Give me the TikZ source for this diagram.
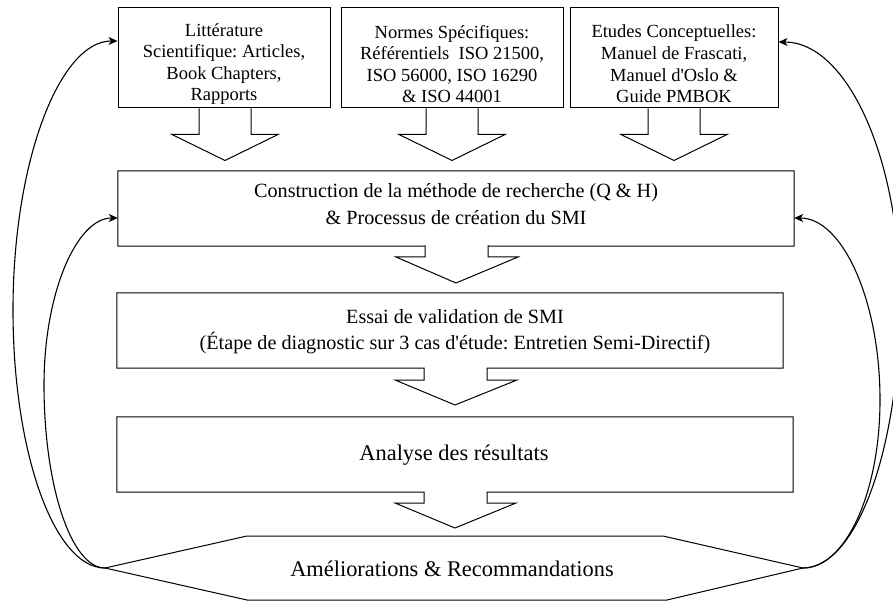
\documentclass[tikz,border=0pt]{standalone}
\usepackage{fontspec}
\setmainfont{Liberation Serif}
\usetikzlibrary{arrows.meta,calc}

\tikzset{
  outline/.style={draw=black,line width=1pt,line join=miter},
  srcbox/.style={outline,rectangle,minimum height=100pt,inner sep=0pt},
  srctext/.style={inner sep=0pt,align=center,font=\frenchspacing\fontsize{18.5}{21.6}\selectfont},
  stagebox/.style={rectangle,minimum height=75pt,inner sep=0pt},
  stagetext/.style={inner sep=0pt,align=center,font=\frenchspacing\fontsize{20.2}{26.5}\selectfont},
  bigtext/.style={inner sep=0pt,font=\fontsize{22.4}{27}\selectfont},
  feedback/.style={draw=black,line width=1.1pt,
    -{Stealth[length=9pt,width=8pt,inset=2.5pt]}},
}

\begin{document}
\begin{tikzpicture}[x=1pt,y=-1pt]
\useasboundingbox (0,0) rectangle (893,601);

% source boxes
\node[srcbox,minimum width=212pt] (lit) at (224,58) {};
\node[srcbox,minimum width=222pt] (norm) at (452,58) {};
\node[srcbox,minimum width=208pt] (conc) at (674,58) {};
\node[srctext] (litT) at ($(lit)+(0,6)$)
  {Littérature\\Scientifique: Articles,\\Book Chapters,\\Rapports};
\node[srctext] (normT) at ($(norm)+(0,6)$)
  {Normes Spécifiques:\\Référentiels\ \ ISO 21500,\\ISO 56000, ISO 16290\\\& ISO 44001};
\node[srctext] (concT) at ($(conc)+(0,6)$)
  {Etudes Conceptuelles:\\Manuel de Frascati,\\Manuel d\textquotesingle Oslo \&\\Guide PMBOK};

% open block arrows under the source boxes
\foreach \b/\dx in {lit/1, norm/0, conc/0}{
  \draw[outline] ($(\b.south)+(\dx-26,0)$) -- ++(0,26) -- ++(-27,0)
    -- ($(\b.south)+(\dx,52)$) -- ($(\b.south)+(\dx+53,26)$) -- ++(-27,0)
    -- ++(0,-26);
}

% stage boxes
\node[stagebox,minimum width=676pt] (con) at (456,208.5) {};
\node[stagebox,minimum width=666pt] (ess) at (450,330.5) {};
\node[stagebox,minimum width=676pt] (ana) at (455,454.5) {};
\node[stagetext] (conT) at (456,204)
  {Construction de la méthode de recherche (Q \& H)\\\& Processus de création du SMI};
\node[stagetext] (essT) at (455,331.5)
  {Essai de validation de SMI\\(Étape de diagnostic sur 3 cas d\textquotesingle étude: Entretien Semi-Directif)};
\node[bigtext] (anaT) at (454,455) {Analyse des résultats};

% arrow roots under the stage boxes
\coordinate (a1) at (456,246);
\coordinate (a2) at (455,368);
\coordinate (a3) at (455,492);

% outlines of the stage boxes with their attached arrows
\draw[outline] (con.south west) -- (con.north west) -- (con.north east) -- (con.south east)
  -- ($(a1)+(32,0)$) -- ++(0,11) -- ++(30,0) -- ++(-62,26) -- ++(-60,-26) -- ++(29,0) -- ++(0,-11) -- cycle;
\draw[outline] (ess.south west) -- (ess.north west) -- (ess.north east) -- (ess.south east)
  -- ($(a2)+(32,0)$) -- ++(0,12) -- ++(30,0) -- ++(-62,25) -- ++(-60,-25) -- ++(29,0) -- ++(0,-12) -- cycle;
\draw[outline] (ana.south west) -- (ana.north west) -- (ana.north east) -- (ana.south east)
  -- ($(a3)+(32,0)$) -- ++(0,11) -- ++(29,0) -- ++(-61,25) -- ++(-60,-25) -- ++(29,0) -- ++(0,-11) -- cycle;

% final stage
\node[bigtext] (imp) at (452,569) {Améliorations \& Recommandations};
\coordinate (impL) at (105,568);
\coordinate (impR) at (803,568);
\draw[outline] (impL) -- (247,536) -- (663,536) -- (impR) -- (667,600) -- (247,600) -- cycle;

% turning points of the feedback loops
\coordinate (lo) at (13,310);
\coordinate (li) at (44,385);
\coordinate (ri) at (880,400);
\coordinate (ro) at (900,300);

% feedback loops (each built from two quarter ellipses)
\draw[feedback] (impL) .. controls (54.2,568) and (13,452.5) .. (lo)
  .. controls (13,161.4) and (59.6,41) .. ([yshift=17pt]lit.west);
\draw[feedback] (impL) .. controls (71.3,568) and (44,486) .. (li)
  .. controls (44,292.8) and (76.7,218) .. ([yshift=-9.5pt]con.west);
\draw[feedback] (impR) .. controls (856.6,568) and (900,448) .. (ro)
  .. controls (900,157.5) and (846.7,42) .. ([yshift=16pt]conc.east);
\draw[feedback] (impR) .. controls (845.5,568) and (880,492.8) .. (ri)
  .. controls (880,299.5) and (842,218) .. ([yshift=-9.5pt]con.east);
\end{tikzpicture}
\end{document}
